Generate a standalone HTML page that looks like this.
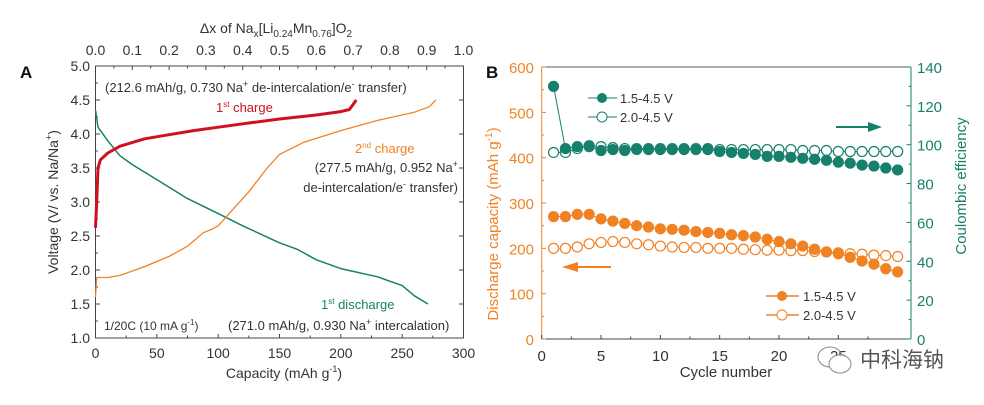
<!DOCTYPE html><html><head><meta charset="utf-8"><style>
body{margin:0;background:#fff;width:984px;height:400px;overflow:hidden}
svg text{font-family:"Liberation Sans","Noto Sans CJK SC",sans-serif}
</style></head><body>
<svg id="s" width="984" height="400" xmlns="http://www.w3.org/2000/svg"></svg>
<script>
const s=document.getElementById('s');let h='';
function T(x,y,t,o){o=o||{};h+=`<text x="${x}" y="${y}" font-size="${o.fs||14}" fill="${o.c||'#333'}" text-anchor="${o.a||'middle'}" ${o.t?`transform="${o.t}"`:''} ${o.fw?'font-weight="bold"':''}>${t}</text>`;}
function L(x1,y1,x2,y2,c,w){h+=`<line x1="${x1}" y1="${y1}" x2="${x2}" y2="${y2}" stroke="${c||'#333'}" stroke-width="${w||1}"/>`;}
// ===== Panel A
const ax=c=>95.5+c*1.2267, ay=v=>338-(v-1)*68;
h+=`<rect x="95.5" y="66" width="368" height="272" fill="none" stroke="#444"/>`;
for(let v=1;v<=5.001;v+=0.5){L(95.5,ay(v),100,ay(v),'#444');L(459,ay(v),463.5,ay(v),'#444');T(90,ay(v)+5,v.toFixed(1),{a:'end',fs:14});}
for(let v=1.25;v<5;v+=0.5){L(95.5,ay(v),98,ay(v),'#444');}
for(let c=0;c<=300;c+=50){L(ax(c),338,ax(c),334,'#444');T(ax(c),358,c,{fs:14});}
for(let c=25;c<300;c+=50)L(ax(c),338,ax(c),335.5,'#444');
for(let i=0;i<=10;i++){const x=95.5+i*36.8;L(x,66,x,70,'#444');T(x,55,(i/10).toFixed(1),{fs:14});}
for(let i=0;i<10;i++){const x=95.5+(i+.5)*36.8;L(x,66,x,68.5,'#444');}
T(20,78,'A',{fs:17,fw:1,a:'start',c:'#111'});
h+=`<text x="276" y="33" font-size="14" fill="#333" text-anchor="middle">Δx of Na<tspan font-size="10" dy="4">x</tspan><tspan dy="-4">[Li</tspan><tspan font-size="10" dy="4">0.24</tspan><tspan dy="-4">Mn</tspan><tspan font-size="10" dy="4">0.76</tspan><tspan dy="-4">]O</tspan><tspan font-size="10" dy="4">2</tspan></text>`;
h+=`<text x="284" y="378" font-size="14" fill="#333" text-anchor="middle">Capacity (mAh g<tspan font-size="9" dy="-6">-1</tspan><tspan dy="6">)</tspan></text>`;
h+=`<text transform="translate(58,202) rotate(-90)" font-size="14" fill="#333" text-anchor="middle">Voltage (V/ vs. Na/Na<tspan font-size="9" dy="-6">+</tspan><tspan dy="6">)</tspan></text>`;
function P(pts,c,w){h+=`<polyline fill="none" stroke="${c}" stroke-width="${w}" stroke-linejoin="round" points="${pts.map(p=>ax(p[0]).toFixed(1)+','+ay(p[1]).toFixed(1)).join(' ')}"/>`;}
P([[0,4.35],[2,4.1],[10,3.9],[20,3.68],[30,3.55],[50,3.33],[75,3.05],[100,2.83],[120,2.65],[150,2.4],[165,2.3],[180,2.15],[200,2.02],[230,1.9],[250,1.77],[260,1.62],[271,1.5]],'#17806d',1.5);
P([[0,1.6],[1,1.89],[10,1.89],[20,1.92],[40,2.05],[60,2.2],[75,2.35],[88,2.55],[95,2.6],[100,2.65],[110,2.85],[125,3.15],[140,3.5],[150,3.7],[170,3.88],[200,4.05],[230,4.2],[260,4.32],[272,4.4],[277.5,4.5]],'#f08224',1.3);
P([[0,2.62],[1,3.0],[2,3.5],[4,3.62],[10,3.72],[20,3.82],[40,3.93],[60,3.99],[80,4.05],[100,4.1],[120,4.15],[150,4.22],[180,4.28],[200,4.33],[207,4.36],[212.6,4.5]],'#d0101e',3);
T(105,92,'(212.6 mAh/g, 0.730 Na<tspan font-size="9" dy="-5">+</tspan><tspan dy="5"> de-intercalation/e</tspan><tspan font-size="9" dy="-5">-</tspan><tspan dy="5"> transfer)</tspan>',{a:'start',fs:13});
T(216,112,'1<tspan font-size="8" dy="-5">st</tspan><tspan dy="5"> charge</tspan>',{a:'start',fs:13,c:'#d0101e'});
T(355,153,'2<tspan font-size="8" dy="-5">nd</tspan><tspan dy="5">  charge</tspan>',{a:'start',fs:13,c:'#f08224'});
T(458,172,'(277.5 mAh/g, 0.952 Na<tspan font-size="9" dy="-5">+</tspan>',{a:'end',fs:13});
T(458,192,'de-intercalation/e<tspan font-size="9" dy="-5">-</tspan><tspan dy="5"> transfer)</tspan>',{a:'end',fs:13});
T(321,309,'1<tspan font-size="8" dy="-5">st</tspan><tspan dy="5"> discharge</tspan>',{a:'start',fs:13,c:'#17806d'});
T(104,330,'1/20C (10 mA g<tspan font-size="8" dy="-5">-1</tspan><tspan dy="5">)</tspan>',{a:'start',fs:12});
T(228,330,'(271.0 mAh/g, 0.930 Na<tspan font-size="9" dy="-5">+</tspan><tspan dy="5"> intercalation)</tspan>',{a:'start',fs:13});
// ===== Panel B
const bx=n=>541.7+n*11.865, byl=v=>339-v*0.4533, byr=v=>339-v*1.943;
const OR='#f08224',TE='#17806d';
L(541.7,67,911,67,'#555');L(541.7,339,911,339,'#444');
L(541.7,67,541.7,339,OR);L(911,67,911,339,TE);
for(let v=0;v<=600;v+=100){L(541.7,byl(v),546,byl(v),OR);T(534,byl(v)+6,v,{a:'end',fs:15,c:OR});}
for(let v=50;v<600;v+=100)L(541.7,byl(v),544,byl(v),OR);
for(let v=0;v<=140;v+=20){L(906.5,byr(v),911,byr(v),TE);T(917,byr(v)+6,v,{a:'start',fs:15,c:TE});}
for(let v=10;v<140;v+=20)L(908.5,byr(v),911,byr(v),TE);
for(let n=0;n<=25;n+=5){L(bx(n),339,bx(n),335,'#444');T(bx(n),361,n,{fs:15});}
for(let n=2.5;n<30;n+=5)L(bx(n),339,bx(n),336.5,'#444');
T(486,78,'B',{fs:17,fw:1,a:'start',c:'#111'});
T(726,377,'Cycle number',{fs:15});
h+=`<text transform="translate(498,224) rotate(-90)" font-size="15" fill="${OR}" text-anchor="middle">Discharge capacity (mAh g<tspan font-size="10" dy="-6">-1</tspan><tspan dy="6">)</tspan></text>`;
T(0,0,'Coulombic efficiency',{fs:15,c:TE,t:'translate(966,186) rotate(-90)'});
const of=[270,270,275,275,265,260,255,250,247,243,242,240,237,235,233,230,228,225,220,215,210,205,198,192,188,180,172,165,155,148];
const oo=[200,200,203,210,213,215,213,210,208,205,203,202,202,200,200,200,198,197,196,196,195,195,193,192,190,188,187,185,184,182];
const tf=[130,98,99,99,97,97.5,97,97.5,97.5,97.5,97.5,97.5,97.5,97.5,96.5,96,95.5,95,94,94,93.5,93,92.5,92,91,90.5,89.5,89,88,87];
const to=[96,96,98,99.5,99,98.5,98,98,98,98,98,98,98,98,97.5,97.5,97.5,97.5,97.5,97.5,97.5,97,97,97,96.5,96.5,96.5,96.5,96.5,96.5];
function S(d,fy,c,fill){h+=`<polyline fill="none" stroke="${c}" stroke-width="1" points="${d.map((v,i)=>bx(i+1).toFixed(1)+','+fy(v).toFixed(1)).join(' ')}"/>`;
d.forEach((v,i)=>h+=`<circle cx="${bx(i+1)}" cy="${fy(v)}" r="5" fill="${fill?c:'#fff'}" stroke="${c}" stroke-width="1.2"/>`);}
S(oo,byl,OR,0);S(of,byl,OR,1);S(to,byr,TE,0);S(tf,byr,TE,1);
// legends
L(588,98,617,98,TE);h+=`<circle cx="602" cy="98" r="5" fill="${TE}"/>`;T(620,103,'1.5-4.5 V',{a:'start',fs:13});
L(588,117,617,117,TE);h+=`<circle cx="602" cy="117" r="5" fill="#fff" stroke="${TE}"/>`;T(620,122,'2.0-4.5 V',{a:'start',fs:13});
L(766,296,799,296,OR,1.5);h+=`<circle cx="782" cy="296" r="5" fill="${OR}"/>`;T(803,301,'1.5-4.5 V',{a:'start',fs:13});
L(766,315,799,315,OR,1.5);h+=`<circle cx="782" cy="315" r="5" fill="#fff" stroke="${OR}"/>`;T(803,320,'2.0-4.5 V',{a:'start',fs:13});
L(836,127,870,127,TE,2);h+=`<polygon points="868,122 882,127 868,132" fill="${TE}"/>`;
L(576,267,611,267,OR,2);h+=`<polygon points="578,262 562,267 578,272" fill="${OR}"/>`;
T(860,367,'中科海钠',{a:'start',fs:21,c:'#555'});
h+=`<ellipse cx="830" cy="357" rx="12" ry="10" fill="none" stroke="#888"/><ellipse cx="840" cy="364" rx="11" ry="9" fill="#fff" stroke="#888"/>`;
s.innerHTML=h;
</script></body></html>
